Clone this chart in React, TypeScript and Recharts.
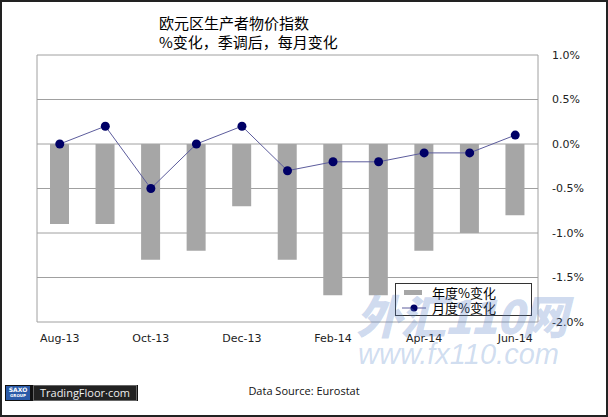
import React from 'react';
import { ComposedChart, Bar, Line, XAxis, YAxis, CartesianGrid } from 'recharts';

const months = ['Aug-13', 'Sep-13', 'Oct-13', 'Nov-13', 'Dec-13', 'Jan-14', 'Feb-14', 'Mar-14', 'Apr-14', 'May-14', 'Jun-14'];
const yearly = [-0.9, -0.9, -1.3, -1.2, -0.7, -1.3, -1.7, -1.7, -1.2, -1.0, -0.8];
const monthly = [0.0, 0.2, -0.5, 0.0, 0.2, -0.3, -0.2, -0.2, -0.1, -0.1, 0.1];
const yTicks = [-2, -1.5, -1, -0.5, 0, 0.5, 1];

const data = months.map((m, i) => ({ month: m, yearly: yearly[i], monthly: monthly[i] }));

const axisFont = '"DejaVu Sans", Verdana, sans-serif';
const cjkFont = '"Noto Sans CJK SC", sans-serif';

const LegendBox = () => (
    <div
        style={{
            position: 'absolute',
            left: 395,
            top: 283,
            width: 137,
            height: 33,
            background: '#fff',
            border: '1px solid #333',
            boxSizing: 'border-box',
            fontFamily: cjkFont,
            fontSize: 13,
            color: '#000',
            lineHeight: '15px',
            paddingTop: 1,
        }}
    >
        <div style={{ display: 'flex', alignItems: 'center', height: 15 }}>
            <div style={{ width: 18, height: 5, background: '#a6a6a6', marginLeft: 8, marginRight: 10 }} />
            <span>年度%变化</span>
        </div>
        <div style={{ display: 'flex', alignItems: 'center', height: 15 }}>
            <svg width={36} height={10}>
                <line x1={6} y1={5} x2={30} y2={5} stroke="#5c5c9c" strokeWidth={1} />
                <circle cx={18} cy={5} r={3.5} fill="#000066" />
            </svg>
            <span>月度%变化</span>
        </div>
    </div>
);

const App = () => {
    return (
        <div style={{ position: 'absolute', left: 0, top: 0, width: 608, height: 417, background: '#fff', overflow: 'hidden' }}>
            <div style={{ position: 'absolute', left: 159, top: 13, fontFamily: cjkFont, fontSize: 15, lineHeight: '19px', color: '#000' }}>
                <div>欧元区生产者物价指数</div>
                <div>%变化，季调后，每月变化</div>
            </div>
            <ComposedChart
                width={608}
                height={417}
                data={data}
                margin={{ top: 55, right: 0, bottom: 65, left: 37 }}
                barCategoryGap={0}
            >
                <CartesianGrid stroke="#a0a0a0" vertical={true} verticalPoints={[37, 538]} horizontal={true} />
                <XAxis
                    dataKey="month"
                    interval={1}
                    tickLine={false}
                    axisLine={false}
                    tickSize={6}
                    tickMargin={6}
                    height={30}
                    tick={{ fill: '#222', fontSize: 11, fontFamily: axisFont }}
                />
                <YAxis
                    orientation="right"
                    width={70}
                    domain={[-2, 1]}
                    ticks={yTicks}
                    tickLine={false}
                    axisLine={false}
                    tickMargin={8}
                    tickFormatter={(v: number) => v.toFixed(1) + '%'}
                    tick={{ fill: '#222', fontSize: 11, fontFamily: axisFont }}
                />
                <Bar dataKey="yearly" name="年度%变化" fill="#a6a6a6" barSize={19} isAnimationActive={false} />
                <Line
                    type="linear"
                    dataKey="monthly"
                    name="月度%变化"
                    stroke="#5c5c9c"
                    strokeWidth={1}
                    dot={{ r: 4.5, fill: '#000066', stroke: '#000066', strokeWidth: 0 }}
                    activeDot={false}
                    isAnimationActive={false}
                />
            </ComposedChart>
            <LegendBox />
            <div
                style={{
                    position: 'absolute',
                    left: 356,
                    top: 286,
                    fontFamily: cjkFont,
                    fontWeight: 900,
                    fontStyle: 'italic',
                    fontSize: 46,
                    color: 'rgba(90,130,200,0.3)',
                    letterSpacing: -2,
                    lineHeight: '56px',
                    pointerEvents: 'none',
                }}
            >
                外汇110网
            </div>
            <div
                style={{
                    position: 'absolute',
                    left: 358,
                    top: 338,
                    fontFamily: '"Liberation Sans", Arial, sans-serif',
                    fontStyle: 'italic',
                    fontSize: 29,
                    color: 'rgba(110,150,210,0.32)',
                    lineHeight: '32px',
                    pointerEvents: 'none',
                }}
            >
                www.fx110.com
            </div>
            <div style={{ position: 'absolute', left: 5, top: 385, width: 133, height: 16, background: '#111' }} />
            <div style={{ position: 'absolute', left: 6, top: 386, width: 24, height: 13, background: '#2a5aa8', color: '#fff', fontFamily: axisFont, fontSize: 6, lineHeight: '6px', fontWeight: 700, textAlign: 'center', paddingTop: 1 }}>
                <div>SAXO</div>
                <div style={{ fontSize: 4 }}>GROUP</div>
            </div>
            <div style={{ position: 'absolute', left: 33, top: 385, width: 104, height: 16, border: '1px solid #666', boxSizing: 'border-box', background: '#222', color: '#eee', fontFamily: '"Open Sans", sans-serif', fontSize: 11, lineHeight: '14px', textAlign: 'center' }}>
                TradingFloor·com
            </div>
            <div style={{ position: 'absolute', left: 0, top: 383, width: 608, textAlign: 'center', fontFamily: '"Open Sans", sans-serif', fontSize: 11, color: '#111' }}>
                Data Source: Eurostat
            </div>
            <div style={{ position: 'absolute', inset: 0, border: '2px solid #222', pointerEvents: 'none' }} />
        </div>
    );
};

export default App;
